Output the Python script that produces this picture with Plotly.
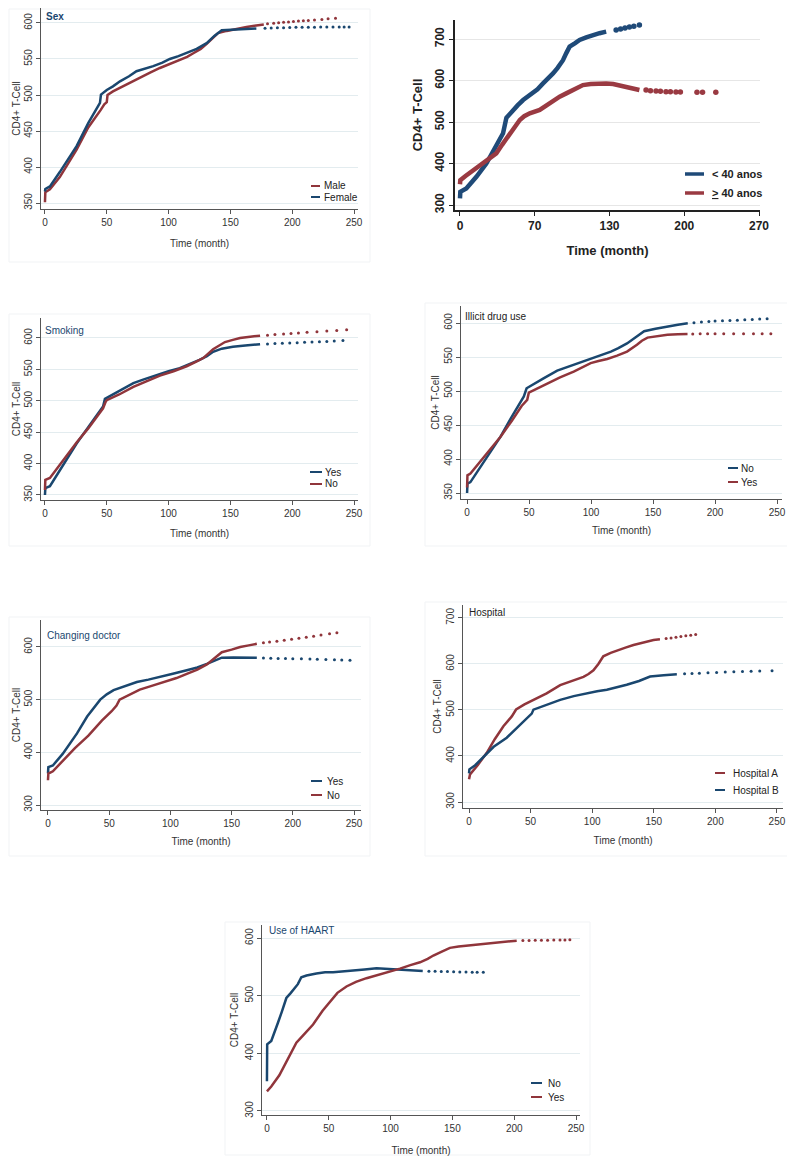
import plotly.graph_objects as go

# ---- data ----
# Sex
sex_male_x = [0, 0.3, 4, 12, 25.6, 35, 45, 48, 50, 50.6, 55, 60.7, 68, 76.9, 85, 93, 101, 109, 115, 120, 126, 130.8, 136, 140, 147, 155, 163, 171, 177]
sex_male_y = [351, 365, 369, 386, 424, 455, 479, 487, 490, 500, 505, 510, 517, 525, 531, 537.5, 543, 549, 553, 558, 564, 571, 579, 586, 589, 592, 594.5, 596.5, 598]
sex_male_tx = [180, 185, 189, 193, 197, 201, 205, 209, 213, 218, 224, 229, 235]
sex_male_ty = [598.8, 599.6, 600.3, 600.9, 601.5, 602.1, 602.6, 603.2, 603.6, 604.2, 605.0, 605.8, 606.6]
sex_female_x = [0, 0.3, 4, 12, 25.6, 35, 44.5, 45.3, 50, 55, 60.7, 68, 74, 80, 87.6, 95, 101, 108, 114.6, 122.7, 130.8, 137, 143, 152, 162, 171]
sex_female_y = [366, 369.5, 373, 393, 429, 461, 489, 500.5, 507, 512, 519, 526, 533, 536, 540, 545, 550, 554, 558, 564, 572, 582, 590, 591, 591.8, 592.3]
sex_female_tx = [178, 183, 188, 193, 198, 203, 208, 213, 218, 223, 228, 233, 238, 242, 246]
sex_female_ty = [592.8, 593.1, 593.3, 593.5, 593.7, 593.9, 594.0, 594.1, 594.2, 594.3, 594.4, 594.4, 594.5, 594.5, 594.5]

# Age (x positions on an axis whose ticks read 0, 70, 130, 200, 270)
age_lt40_x = [0, 0.3, 5.7, 14.8, 23.8, 28, 32.8, 36, 38.9, 41.9, 47.9, 52, 57, 62, 66, 70, 75, 80, 84, 88, 93, 96, 99, 104, 108, 114, 120, 126, 132]
age_lt40_y = [316, 332, 340, 368, 400, 420, 441, 460, 473, 510, 529, 540, 553, 562, 569, 579, 593, 605, 617, 630, 649, 666, 681.5, 690, 697.6, 704, 709.6, 714, 717.7]
age_lt40_tx = [141, 145, 149, 153, 157, 162]
age_lt40_ty = [721.7, 724, 726.5, 729, 730.5, 733.5]
age_ge40_x = [0, 0.3, 5, 11.8, 20.8, 26, 32.8, 38, 44.9, 50, 54, 58, 63, 72, 78, 84, 90, 96, 104, 111, 118, 126, 132, 138.3, 144, 150.3, 156, 162]
age_ge40_y = [350, 360, 370, 384, 400.4, 412, 424.5, 445, 472.7, 490, 505, 514, 521, 529, 540, 553, 561, 569, 579, 589, 591.5, 593, 593, 591.6, 588, 583.5, 580, 577]
age_ge40_tx = [168, 172, 177, 181, 186, 190, 195, 199, 214, 219, 231]
age_ge40_ty = [577, 575.5, 575, 574, 573, 573, 572.5, 572.5, 571.5, 571.5, 571.5]
age_tickvals = [0, 67.5, 135, 202.5, 270]
age_ticktext = ["0", "70", "130", "200", "270"]

# Smoking
smk_yes_x = [0, 0.3, 4, 12, 25.6, 35, 44, 47, 48.5, 55, 62, 71.5, 80, 90, 100, 109, 118, 125, 131, 136, 143, 152, 162, 174]
smk_yes_y = [350, 361, 364, 389, 432, 458, 484, 491, 503, 510, 518, 528, 534, 541, 547, 552, 559, 565, 571, 578, 583, 586, 588, 590]
smk_yes_tx = [180, 186, 192, 198, 204, 210, 216, 222, 228, 234, 241]
smk_yes_ty = [590.5, 591, 591.5, 592, 592.5, 593, 593.5, 594, 594.5, 595, 596]
smk_no_x = [0, 0.3, 4, 12, 25.6, 35, 44, 47, 49, 50, 60, 71.5, 82, 93, 104, 114.6, 122, 128, 136, 141, 145.6, 152, 157.8, 166, 174]
smk_no_y = [358, 374, 377, 398, 433.5, 456, 481, 488, 498, 501, 510, 522, 531, 540, 547, 555, 562, 568, 582, 588, 593.5, 597, 600, 602, 603.7]
smk_no_tx = [180, 186, 193, 199, 205, 212, 220, 228, 236, 244]
smk_no_ty = [604.5, 605.5, 606.3, 607, 608, 609, 610, 611, 612, 613]

# Illicit drug use
drug_no_x = [0, 0.3, 2.7, 12, 20, 27, 36, 45.8, 48, 55, 62, 72.7, 86, 99.7, 108, 116, 122, 129, 136, 142.8, 152, 161.6, 170, 178]
drug_no_y = [350, 364, 366, 392, 414, 433, 462, 492, 504, 512, 519, 530, 538.5, 547, 552, 558, 563, 570, 579, 588, 591.5, 595, 597.5, 599.5]
drug_no_tx = [183, 189, 195, 200, 206, 212, 218, 224, 230, 236, 242]
drug_no_ty = [600.5, 601.5, 602.2, 602.8, 603.3, 603.8, 604.2, 604.7, 605.2, 605.8, 606.4]
drug_yes_x = [0, 0.3, 2.7, 12, 20, 27, 36, 44, 48.5, 49.8, 56, 64.7, 75, 86, 93, 99.7, 106, 113, 121, 129, 137, 141, 145.5, 152, 161.6, 170, 177.8]
drug_yes_y = [358, 376, 378.5, 399, 416, 432.7, 456, 478, 487, 497.6, 503, 511, 520, 528.6, 535, 541, 544, 547, 552, 558, 568, 574, 578.5, 580.5, 582.8, 583.5, 583.8]
drug_yes_tx = [182, 188, 194, 200, 207, 215, 223, 231, 238, 245]
drug_yes_ty = [584, 584.2, 584.3, 584.3, 584.3, 584.3, 584.3, 584.3, 584.3, 584.3]

# Changing doctor
doc_yes_x = [0, 0.3, 4, 12, 23.7, 32, 42.7, 48, 53.6, 62, 72.6, 82, 91.7, 102, 113.4, 122, 129.8, 136, 142, 151.5, 160, 170.6]
doc_yes_y = [360, 372, 375, 397, 436, 468, 500, 510, 518, 525, 533.5, 538, 543, 549, 555.7, 561, 568, 574, 579.7, 580, 579.7, 579.3]
doc_yes_tx = [176, 182, 188, 194, 200, 207, 214, 220, 227, 234, 240, 246.7]
doc_yes_ty = [579, 578.7, 578.3, 578, 577.8, 577.4, 577, 576.6, 576.2, 575.8, 575.3, 574.7]
doc_no_x = [0, 0.3, 4, 12, 22, 33, 44, 52, 56, 58.5, 65, 75, 86, 97, 105, 113.4, 122, 129.8, 136, 142, 150, 157, 164, 170.6]
doc_no_y = [347, 359.5, 364, 384, 408, 431.6, 460, 478, 488.6, 500, 508, 519, 527, 535, 541, 549, 557, 567, 578, 590, 595, 600, 603, 606]
doc_no_tx = [176, 181, 187, 193, 199, 205, 211, 217, 223, 230, 236]
doc_no_ty = [608, 609.5, 611, 612.8, 614.5, 616.5, 618.5, 620.5, 622.5, 625, 627]

# Hospital
hosp_a_x = [0, 0.8, 7, 14.4, 21, 27.9, 34.7, 38.2, 45, 52.3, 63, 74, 84, 92.9, 97, 101, 105, 109, 115, 120, 127, 133.5, 141, 149.8, 155]
hosp_a_y = [349.6, 360, 380, 407, 437, 464.7, 486, 501, 512, 521.6, 536, 554, 564, 572, 578, 586, 600, 616.5, 624, 629.5, 635.5, 641, 646.5, 651.8, 653.5]
hosp_a_tx = [160, 164, 168, 172, 176, 180, 184]
hosp_a_ty = [655, 656.5, 658, 659.5, 661, 662.5, 664]
hosp_b_x = [0, 0.3, 5, 11.6, 20, 30.6, 41.4, 50.9, 52.3, 62, 74, 85, 95.6, 104, 111.9, 120, 128, 138, 147, 158, 168.7]
hosp_b_y = [362, 371, 380, 398, 420, 439.6, 468.3, 492, 500.7, 511, 522, 530, 536.7, 540.5, 544, 549, 554.7, 563, 572.7, 575.5, 577.7]
hosp_b_tx = [175, 181, 187, 194, 201, 208, 215, 222, 229, 236, 246]
hosp_b_ty = [578.5, 579.3, 580, 580.8, 581.6, 582.3, 583, 583.5, 584, 584.5, 585]

# Use of HAART
haart_no_x = [0, 0.2, 3.5, 6, 8.9, 12, 15.7, 19, 22.4, 25, 27.8, 32, 40, 47, 53.5, 62, 69.7, 79, 88.6, 96.8, 107.6, 118, 126]
haart_no_y = [351.6, 415.8, 421.6, 435, 453, 472, 496, 504, 512, 520, 532, 535, 538.5, 540.5, 540.7, 542.5, 544.8, 545.5, 547.5, 546.5, 545, 543.6, 542.8]
haart_no_tx = [131, 136, 141, 146, 151, 156, 161, 166, 170, 175]
haart_no_ty = [542.5, 542.3, 542, 541.8, 541.6, 541.3, 541.1, 540.9, 540.8, 540.7]
haart_yes_x = [0, 3.5, 10, 17, 23.8, 30, 37.3, 45, 55, 57, 64.3, 72, 80.5, 90, 99.5, 107.6, 116, 123.8, 130, 134.6, 141, 148, 155, 162, 172, 183, 192, 202]
haart_yes_y = [334, 342.4, 362, 390, 418.6, 433, 450, 474, 500, 505, 516, 524, 530.4, 536, 541.8, 547, 553, 558, 564, 569.8, 576, 583, 585.5, 587, 589.5, 592, 594, 595.5]
haart_yes_tx = [207, 212, 217, 222, 227, 232, 237, 241, 245]
haart_yes_ty = [595.8, 596, 596.2, 596.3, 596.4, 596.5, 596.7, 596.8, 597]

time_ticks = [0, 50, 100, 150, 200, 250]

# ---- styling ----
# the page body has an 8px margin, so the figure is drawn 8px in from the top-left
OFF = 8
W, H = 795 - OFF, 1164 - 2 * OFF
NAVY = "#1a476f"
MAROON = "#90353b"
BLUE2 = "#1f4a78"
RED2 = "#9a3a42"
FONT = "Liberation Sans, Arial, sans-serif"
NARROW = "Liberation Sans Narrow, Liberation Sans, Arial, sans-serif"
AXC = "#555555"
GRID = "#e3ecef"


def px(x):
    return (x - OFF) / W


def py(y):
    return 1 - (y - OFF) / H


fig = go.Figure()


def add_series(i, x, y, tx, ty, color, width=2.5, msize=3):
    ax = "" if i == 1 else str(i)
    fig.add_trace(go.Scatter(x=x, y=y, mode="lines", line=dict(color=color, width=width),
                             xaxis="x" + ax, yaxis="y" + ax, showlegend=False, hoverinfo="skip"))
    fig.add_trace(go.Scatter(x=tx, y=ty, mode="markers", marker=dict(color=color, size=msize),
                             xaxis="x" + ax, yaxis="y" + ax, showlegend=False, hoverinfo="skip"))


add_series(1, sex_male_x, sex_male_y, sex_male_tx, sex_male_ty, MAROON)
add_series(1, sex_female_x, sex_female_y, sex_female_tx, sex_female_ty, NAVY)
add_series(2, age_lt40_x, age_lt40_y, age_lt40_tx, age_lt40_ty, BLUE2, width=4.5, msize=5.5)
add_series(2, age_ge40_x, age_ge40_y, age_ge40_tx, age_ge40_ty, RED2, width=4.5, msize=5.5)
add_series(3, smk_yes_x, smk_yes_y, smk_yes_tx, smk_yes_ty, NAVY)
add_series(3, smk_no_x, smk_no_y, smk_no_tx, smk_no_ty, MAROON)
add_series(4, drug_no_x, drug_no_y, drug_no_tx, drug_no_ty, NAVY)
add_series(4, drug_yes_x, drug_yes_y, drug_yes_tx, drug_yes_ty, MAROON)
add_series(5, doc_yes_x, doc_yes_y, doc_yes_tx, doc_yes_ty, NAVY)
add_series(5, doc_no_x, doc_no_y, doc_no_tx, doc_no_ty, MAROON)
add_series(6, hosp_a_x, hosp_a_y, hosp_a_tx, hosp_a_ty, MAROON)
add_series(6, hosp_b_x, hosp_b_y, hosp_b_tx, hosp_b_ty, NAVY)
add_series(7, haart_no_x, haart_no_y, haart_no_tx, haart_no_ty, NAVY)
add_series(7, haart_yes_x, haart_yes_y, haart_yes_tx, haart_yes_ty, MAROON)

# panel boxes in pixels: left, right, top, bottom of plot area; axis ranges; title standoffs
panels = {
    1: dict(box=(41, 358, 8, 209), xr=[-3.2, 253.2], yr=[341.7, 620.8], yt=[350, 400, 450, 500, 550, 600], xs=12, ys=0),
    2: dict(box=(455, 760, 20, 210), xr=[-4.5, 270.9], yr=[288, 745.8], yt=[300, 400, 500, 600, 700], xs=14, ys=8),
    3: dict(box=(41, 358, 318, 500), xr=[-3.2, 253.2], yr=[342, 631.8], yt=[350, 400, 450, 500, 550, 600], xs=11, ys=0),
    4: dict(box=(461, 782, 306, 499), xr=[-4.9, 254.0], yr=[341.2, 625], yt=[350, 400, 450, 500, 550, 600], xs=9, ys=1),
    5: dict(box=(41, 361, 620, 810), xr=[-5.7, 255.7], yr=[290.5, 651.2], yt=[300, 400, 500, 600], xs=9, ys=0),
    6: dict(box=(463, 783, 605, 808), xr=[-4.9, 254.9], yr=[287, 728], yt=[300, 400, 500, 600, 700], xs=10, ys=1),
    7: dict(box=(262, 580, 925, 1115), xr=[-4.0, 253.2], yr=[293, 622.7], yt=[300, 400, 500, 600], xs=14, ys=3),
}

layout = {}
for i, p in panels.items():
    l, r, t, b = p["box"]
    ax = "" if i == 1 else str(i)
    bold = i == 2
    tf = dict(family=NARROW if bold else FONT, size=12 if bold else 10, color="#222" if bold else "#333")
    ttl = dict(family=NARROW if bold else FONT, size=13 if bold else 10, color="#222" if bold else "#333")
    xa = dict(domain=[px(l), px(r)], range=p["xr"], anchor="y" + ax, showline=True,
              linecolor="#222" if bold else AXC, linewidth=1.5 if bold else 1,
              ticks="outside", ticklen=4, tickcolor="#222" if bold else AXC, showgrid=False,
              zeroline=False, tickfont=tf, automargin=False,
              title=dict(text="<b>Time (month)</b>" if bold else "Time (month)", font=ttl,
                         standoff=p["xs"]))
    if bold:
        xa.update(tickvals=age_tickvals, ticktext=["<b>%s</b>" % s for s in age_ticktext])
    else:
        xa.update(tickvals=time_ticks)
    ya = dict(domain=[py(b), py(t)], range=p["yr"], anchor="x" + ax, showline=True,
              linecolor="#222" if bold else AXC, linewidth=1.5 if bold else 1,
              ticks="outside", ticklen=4, tickcolor="#222" if bold else AXC,
              showgrid=True, gridcolor="#e6e6e6" if bold else GRID, gridwidth=1,
              zeroline=False, tickfont=tf, tickangle=-90, tickvals=p["yt"], automargin=False,
              title=dict(text="<b>CD4+ T-Cell</b>" if bold else "CD4+ T-Cell", font=ttl,
                         standoff=p["ys"]))
    if bold:
        ya.update(ticktext=["<b>%d</b>" % v for v in p["yt"]])
    layout["xaxis" + ax] = xa
    layout["yaxis" + ax] = ya

shapes = []
annotations = []

# faint outer frames of each graph region
frames = [(9, 370, 9, 262), (9, 370, 314, 546), (425, 794, 303, 546),
          (9, 370, 617, 856), (425, 794, 602, 856), (225, 590, 922, 1155)]
for l, r, t, b in frames:
    shapes.append(dict(type="rect", xref="paper", yref="paper", x0=px(l), x1=px(r), y0=py(b), y1=py(t),
                       line=dict(color="#f1f3f5", width=1), layer="below"))

# inside-panel titles
titles = [("<b>Sex</b>", 44, 17, NAVY), ("Smoking", 43, 331, NAVY), ("Illicit drug use", 463, 317, "#222"),
          ("Changing doctor", 45, 635, NAVY), ("Hospital", 467, 612, "#222"), ("Use of HAART", 267, 930, NAVY)]
for txt, x, y, c in titles:
    annotations.append(dict(text=txt, x=px(x), y=py(y), xref="paper", yref="paper", xanchor="left",
                            yanchor="middle", showarrow=False, font=dict(family=FONT, size=10, color=c)))

# legends: label, color, key x0, key x1, text x, y, font size, key width
legend_items = [
    ("Male", MAROON, 311, 320, 322, 186, 10, 2), ("Female", NAVY, 311, 320, 322, 197, 10, 2),
    ("<b>< 40 anos</b>", BLUE2, 685, 704, 710, 174, 11, 3.5),
    ("<b><u>></u> 40 anos</b>", RED2, 685, 704, 710, 193, 11, 3.5),
    ("Yes", NAVY, 310, 322, 323, 472, 10, 2), ("No", MAROON, 310, 322, 323, 484, 10, 2),
    ("No", NAVY, 728, 738, 739, 468, 10, 2), ("Yes", MAROON, 728, 738, 739, 482, 10, 2),
    ("Yes", NAVY, 311, 322, 325, 781, 10, 2), ("No", MAROON, 311, 322, 325, 795, 10, 2),
    ("Hospital A", MAROON, 715, 725, 731, 773, 10, 2), ("Hospital B", NAVY, 715, 725, 731, 790, 10, 2),
    ("No", NAVY, 531, 542, 546, 1083, 10, 2), ("Yes", MAROON, 531, 542, 546, 1097, 10, 2),
]
for txt, c, x0, x1, tx, y, fs, lw in legend_items:
    shapes.append(dict(type="line", xref="paper", yref="paper", x0=px(x0), x1=px(x1), y0=py(y), y1=py(y),
                       line=dict(color=c, width=lw)))
    annotations.append(dict(text=txt, x=px(tx), y=py(y), xref="paper", yref="paper", xanchor="left",
                            yanchor="middle", showarrow=False,
                            font=dict(family=NARROW if lw > 3 else FONT, size=fs, color="#222")))

fig.update_layout(width=W, height=H, margin=dict(l=0, r=0, t=0, b=0), paper_bgcolor="white",
                  plot_bgcolor="white", showlegend=False, shapes=shapes, annotations=annotations,
                  font=dict(family=FONT), **layout)

fig.write_html("out.html")
